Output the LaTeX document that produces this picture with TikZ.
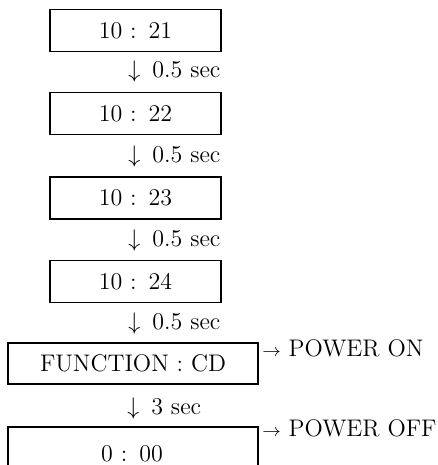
\documentclass[tikz,border=0pt]{standalone}
\usepackage{tikz}

\newcommand{\smallto}{{\fontsize{9}{10}\selectfont$\rightarrow$}}

\begin{document}
\begin{tikzpicture}[x=0.5pt, y=-0.5pt,
    every node/.style={font=\fontsize{12}{14}\selectfont, inner sep=0pt},
    lcdbox/.style={draw, line width=0.6pt, minimum width=85.5pt, minimum height=21pt},
    widebox/.style={lcdbox, minimum width=125pt, minimum height=20.5pt},
    steplabel/.style={anchor=west}]
    % --- page frame ---
    \useasboundingbox (0,0) rectangle (438,465);

    % --- 1. CLOCK DISPLAYS, 0.5 sec apart ---
    \foreach \name/\yy/\txt in {t21/30.5/21, t22/113.5/22, t23/198/23, t24/281.5/24} {
        \node[lcdbox] (\name) at (135.5,\yy) {10 :\enspace\txt};
    }
    \foreach \yy in {72, 156, 240, 323} {
        \node[steplabel] at (128,\yy) {$\downarrow$\enspace 0.5 sec};
    }

    % --- 2. FUNCTION DISPLAY ---
    \node[widebox] (func) at (133,363.5) {FUNCTION : CD};
    \node[steplabel] (poweron) at (262,348) {\smallto\ POWER ON};
    \node[steplabel] (wait) at (127,408) {$\downarrow$\enspace 3 sec};

    % --- 3. LAST DISPLAY (cut off at the bottom) ---
    \coordinate (offbl) at (8,466);
    \coordinate (offtl) at (8,427);
    \coordinate (offtr) at (258,427);
    \coordinate (offbr) at (258,466);
    \draw[line width=0.6pt] (offbl) -- (offtl) -- (offtr) -- (offbr);
    \node (zero) at (132,454) {0 :\enspace 00};
    \node[steplabel] (poweroff) at (262,428) {\smallto\ POWER OFF};
\end{tikzpicture}
\end{document}
